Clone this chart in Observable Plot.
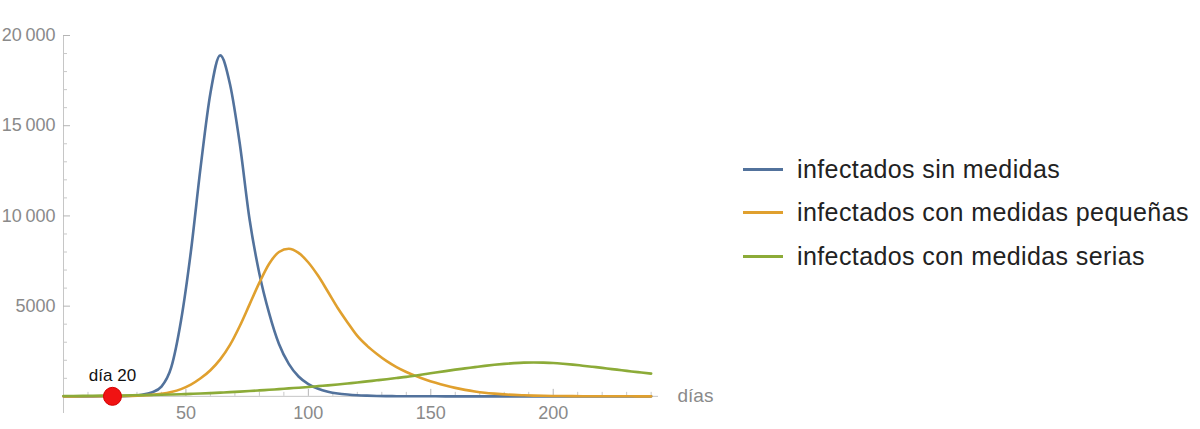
<!DOCTYPE html>
<html>
<head>
<meta charset="utf-8">
<script src="https://cdn.jsdelivr.net/npm/d3@7"></script>
<script src="https://cdn.jsdelivr.net/npm/@observablehq/plot@0.6"></script>
<style>
  body { margin: 0; background: #fff; }
  #wrap { position: relative; width: 1200px; height: 429px; font-family: "Liberation Sans", Arial, sans-serif; background: #fff; }
  #chart svg { display: block; }
  #legend { position: absolute; left: 743px; top: 0; }
  .row { position: absolute; left: 0; height: 30px; display: flex; align-items: center; white-space: nowrap; }
  .sw { width: 40px; height: 3px; margin-right: 14px; }
  .lab { font-size: 25px; letter-spacing: 0.4px; color: #222; }
</style>
</head>
<body>
<div id="wrap"><div id="chart"></div><div id="legend"></div></div>
<script>
// ---- data ----
const days = [0,4,8,12,16,20,24,28,32,36,40,44,48,52,56,60,64,68,72,76,80,84,88,92,96,100,104,108,112,116,120,124,128,132,136,140,144,148,152,156,160,164,168,172,176,180,184,188,192,196,200,204,208,212,216,220,224,228,232,236,240];

const sinMedidas = [0,0,0,1,2,5,13,33,85,215,540,1600,4200,8000,12700,16800,18900,17300,14000,9800,6800,4600,2900,1800,1100,680,420,260,160,100,60,38,24,15,9,6,4,3,2,1,1,0,0,0,0,0,0,0,0,0,0,0,0,0,0,0,0,0,0,0,0];

const medidasPequenas = [0,1,2,3,5,9,15,25,45,80,140,240,400,650,1000,1450,2050,2850,3900,5100,6300,7350,8000,8180,7950,7420,6680,5800,4900,4100,3350,2800,2350,1950,1620,1350,1120,920,750,600,470,360,270,200,150,110,80,58,42,30,22,16,12,9,6,5,4,3,2,1,1];

const medidasSerias = [20,24,28,33,38,44,51,59,68,79,91,105,120,138,158,180,205,232,262,295,330,365,400,440,480,520,565,610,660,715,770,830,890,950,1015,1080,1160,1240,1320,1400,1480,1550,1620,1690,1750,1800,1840,1870,1880,1870,1850,1810,1760,1700,1640,1580,1510,1450,1380,1320,1260];

const seriesNames = ["infectados sin medidas", "infectados con medidas pequeñas", "infectados con medidas serias"];
const seriesColors = ["#52729c", "#e0a02e", "#8cab38"];

const xTickLabels = [50, 100, 150, 200];
const xMinorTicks = [10,20,30,40,60,70,80,90,110,120,130,140,160,170,180,190,210,220,230,240];
const yTickLabels = [5000, 10000, 15000, 20000];
const yMinorTicks = [1000,2000,3000,4000,6000,7000,8000,9000,11000,12000,13000,14000,16000,17000,18000,19000];
const xAxisLabel = "días";
const markerDay = [20];
const markerLabel = "día";

// ---- build long table ----
const seriesValues = [sinMedidas, medidasPequenas, medidasSerias];
const rows = [];
seriesValues.forEach((vals, s) => {
  days.forEach((d, i) => rows.push({day: d, value: vals[i], series: seriesNames[s]}));
});

const fmtY = d => {
  const s = String(d);
  return s.length > 4 ? s.slice(0, s.length - 3) + "\u2009" + s.slice(-3) : s;
};

const axisColor = "#c6c6c6";
const labelColor = "#8a8a8a";

const chart = Plot.plot({
  width: 1200,
  height: 429,
  marginLeft: 63,
  marginRight: 542,
  marginTop: 35,
  marginBottom: 16,
  x: {domain: [0, 243], axis: null},
  y: {domain: [-950, 20000], axis: null},
  color: {domain: seriesNames, range: seriesColors},
  style: {fontFamily: "'Liberation Sans', Arial, sans-serif", background: "white"},
  marks: [
    Plot.ruleX([0], {stroke: axisColor, strokeWidth: 1}),
    Plot.ruleY([0], {stroke: axisColor, strokeWidth: 1}),
    Plot.ruleY(yTickLabels, {y: d => d, x1: () => 0, x2: () => 0, insetRight: -7, stroke: "#b5b5b5"}),
    Plot.ruleY(yMinorTicks, {y: d => d, x1: () => 0, x2: () => 0, insetRight: -4, stroke: "#c8c8c8"}),
    Plot.ruleX(xTickLabels, {x: d => d, y1: () => 0, y2: () => 0, insetTop: -7, stroke: "#b5b5b5"}),
    Plot.ruleX(xMinorTicks, {x: d => d, y1: () => 0, y2: () => 0, insetTop: -4, stroke: "#c8c8c8"}),
    Plot.text(yTickLabels, {x: () => 0, y: d => d, text: fmtY, dx: -8, textAnchor: "end", fontSize: 18, fill: labelColor}),
    Plot.text(xTickLabels, {x: d => d, y: () => 0, text: d => String(d), dy: 17, fontSize: 18, fill: labelColor}),
    Plot.text([xAxisLabel], {frameAnchor: "right", y: () => 0, text: d => d, dx: 19, textAnchor: "start", fontSize: 19, fill: labelColor}),
    Plot.line(rows, {x: "day", y: "value", z: "series", stroke: "series", strokeWidth: 2.6, curve: "monotone-x"}),
    Plot.dot(markerDay, {x: d => d, y: () => 0, r: 9, fill: "#f01212", stroke: "#d40000", strokeWidth: 1}),
    Plot.text(markerDay, {x: d => d, y: () => 0, text: d => `${markerLabel} ${d}`, dy: -21, fontSize: 17, fill: "#111"})
  ]
});
document.getElementById("chart").appendChild(chart);

// ---- legend (HTML, right side) ----
const legendCenters = [169, 212, 256];
const legend = document.getElementById("legend");
seriesNames.forEach((name, i) => {
  const row = document.createElement("div");
  row.className = "row";
  row.style.top = (legendCenters[i] - 15) + "px";
  const sw = document.createElement("div");
  sw.className = "sw";
  sw.style.background = seriesColors[i];
  const lab = document.createElement("span");
  lab.className = "lab";
  lab.textContent = name;
  row.appendChild(sw);
  row.appendChild(lab);
  legend.appendChild(row);
});
</script>
</body>
</html>
